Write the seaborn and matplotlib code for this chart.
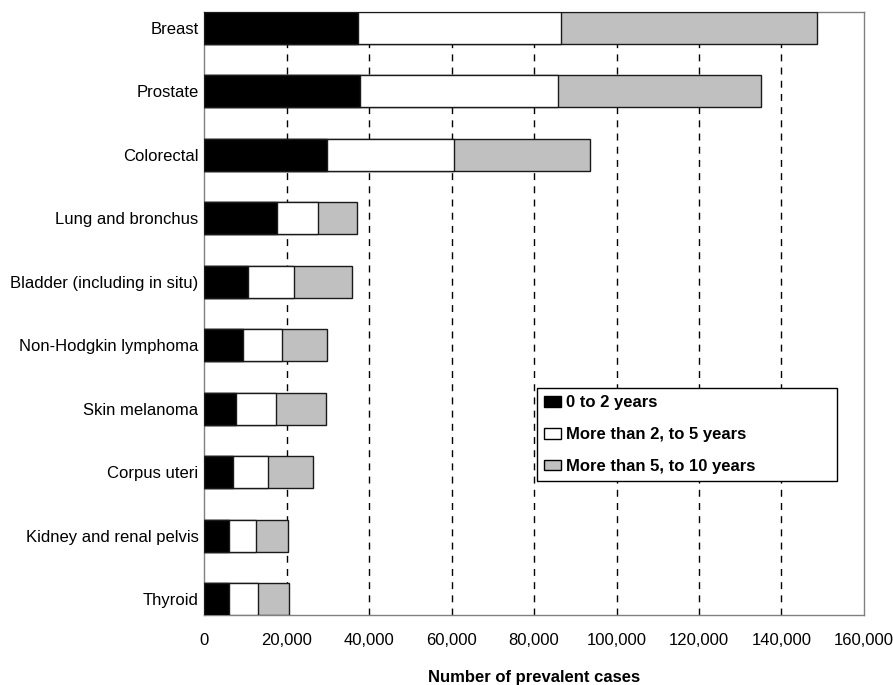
import pandas as pd
import seaborn as sns
import matplotlib.pyplot as plt
from matplotlib.patches import Patch

# prevalent cases by time since diagnosis
sites = ["Breast", "Prostate", "Colorectal", "Lung and bronchus",
         "Bladder (including in situ)", "Non-Hodgkin lymphoma",
         "Skin melanoma", "Corpus uteri", "Kidney and renal pelvis", "Thyroid"]
yrs_0_2 = [37400, 37700, 29700, 17700, 10700, 9400, 7800, 7000, 6100, 6100]
yrs_2_5 = [49100, 48200, 30900, 9900, 11100, 9600, 9600, 8400, 6600, 7000]
yrs_5_10 = [62000, 49100, 32900, 9500, 14000, 10700, 12100, 11100, 7700, 7400]

series = ["0 to 2 years", "More than 2, to 5 years", "More than 5, to 10 years"]
colors = ["#000000", "#ffffff", "#c0c0c0"]

df = pd.DataFrame({"site": sites, "a": yrs_0_2, "b": yrs_2_5, "c": yrs_5_10})
df["cum_a"] = df["a"]
df["cum_b"] = df["a"] + df["b"]
df["cum_c"] = df["a"] + df["b"] + df["c"]

sns.set_style("white")
plt.rcParams["font.family"] = ["Liberation Sans", "DejaVu Sans"]
plt.rcParams["text.color"] = "black"
plt.rcParams["axes.labelcolor"] = "black"
plt.rcParams["xtick.color"] = "black"
plt.rcParams["ytick.color"] = "black"

fig, ax = plt.subplots(figsize=(8.93, 6.85), dpi=100)
fig.subplots_adjust(left=0.2285, right=0.9675, top=0.9825, bottom=0.1022)

# stacked bars: draw cumulative totals from largest to smallest
for col, c in zip(["cum_c", "cum_b", "cum_a"], colors[::-1]):
    sns.barplot(data=df, x=col, y="site", order=sites, color=c, saturation=1,
                width=0.5, edgecolor="#1a1a1a", linewidth=1, ax=ax, zorder=3)

ax.set_xlim(0, 160000)
ax.set_ylim(9.25, -0.25)
ax.set_xticks(range(0, 160001, 20000))
ax.set_xticklabels([f"{v:,}" for v in range(0, 160001, 20000)])
ax.set_ylabel("")
ax.set_xlabel("Number of prevalent cases", fontsize=12, fontweight="bold", labelpad=16)
ax.tick_params(axis="x", length=0, pad=13, labelsize=12)
ax.tick_params(axis="y", length=0, pad=4, labelsize=12)

ax.xaxis.grid(True, linestyle=(0, (5, 4.5)), color="black", linewidth=1)
ax.set_axisbelow(True)
gl = ax.get_xgridlines()
gl[0].set_visible(False)
gl[-1].set_visible(False)

for s in ax.spines.values():
    s.set_visible(True)
    s.set_color("#808080")
    s.set_linewidth(1)

handles = [Patch(facecolor=c, edgecolor="black", linewidth=1) for c in colors]
leg = ax.legend(handles, series, loc="upper left",
                bbox_to_anchor=(0.5045, 0.2, 0.4545, 0.1765), mode="expand",
                borderaxespad=0, frameon=True, fancybox=False, framealpha=1,
                edgecolor="black", prop={"weight": "bold", "size": 12},
                handlelength=1.0, handleheight=0.6, handletextpad=0.3,
                labelspacing=1.0, borderpad=0.45)
leg.get_frame().set_linewidth(1)
leg.set_zorder(5)

fig.savefig("out.png", dpi=100, facecolor="white")
